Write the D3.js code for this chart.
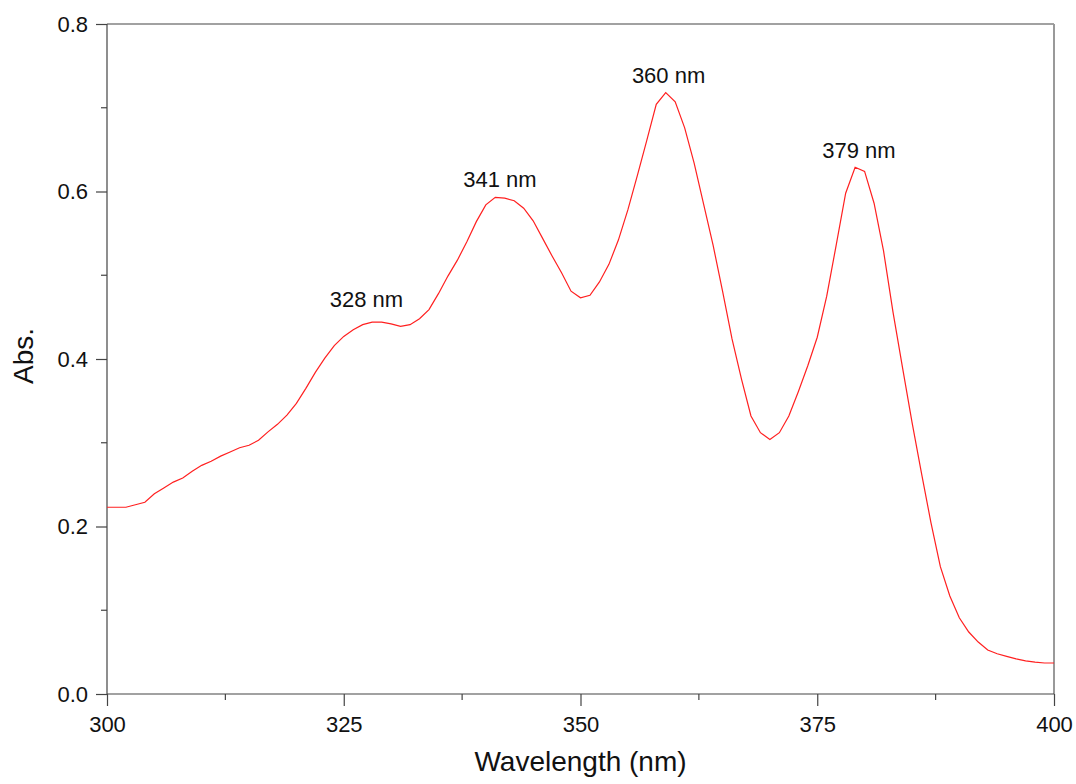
<!DOCTYPE html>
<html>
<head>
<meta charset="utf-8">
<script src="https://cdn.jsdelivr.net/npm/d3@7"></script>
<style>
  html, body { margin: 0; padding: 0; background: #fff; }
  svg text { font-family: "Liberation Sans", Arial, sans-serif; fill: #111; }
</style>
</head>
<body>
<svg id="chart" width="1076" height="784"></svg>
<script>
// Absorption spectrum, 1 nm steps from 300 to 400 nm
const wavelengths = d3.range(300, 401);
const absorbance = [
  0.223, 0.223, 0.223, 0.226, 0.229, 0.239, 0.246, 0.253, 0.258, 0.266,
  0.273, 0.278, 0.284, 0.289, 0.294, 0.297, 0.303, 0.313, 0.322, 0.333,
  0.347, 0.365, 0.384, 0.401, 0.416, 0.427, 0.435, 0.441, 0.444, 0.444,
  0.442, 0.439, 0.441, 0.448, 0.459, 0.478, 0.499, 0.518, 0.540, 0.564,
  0.584, 0.593, 0.592, 0.589, 0.580, 0.565, 0.544, 0.523, 0.503, 0.481,
  0.473, 0.476, 0.492, 0.513, 0.542, 0.578, 0.619, 0.661, 0.704, 0.718,
  0.707, 0.676, 0.634, 0.585, 0.536, 0.481, 0.424, 0.376, 0.332, 0.312,
  0.304, 0.312, 0.332, 0.361, 0.392, 0.426, 0.475, 0.536, 0.598, 0.629,
  0.624, 0.586, 0.529, 0.456, 0.390, 0.325, 0.264, 0.205, 0.152, 0.117,
  0.091, 0.074, 0.062, 0.0525, 0.048, 0.045, 0.042, 0.0395, 0.038, 0.037,
  0.037
];

// Peak annotations: stated wavelength, label anchor (nm) and baseline level (Abs.)
const peakNm = [328, 341, 360, 379];
const peakLabelAt = [327.4, 341.5, 359.3, 379.4];
const peakLabelAbs = [0.462, 0.605, 0.730, 0.640];

const xTicks = [300, 325, 350, 375, 400];
const xMinorTicks = [312.5, 337.5, 362.5, 387.5];
const yTicks = [0.0, 0.2, 0.4, 0.6, 0.8];
const yMinorTicks = [0.1, 0.3, 0.5, 0.7];

const margin = { left: 107, right: 1076 - 1054, top: 24, bottom: 784 - 694 };
const width = 1076, height = 784;
const svg = d3.select("#chart");

const x = d3.scaleLinear().domain([300, 400]).range([margin.left, width - margin.right]);
const y = d3.scaleLinear().domain([0, 0.8]).range([height - margin.bottom, margin.top]);

const axisColor = "#444";

// Frame: top and right edges
svg.append("line")
  .attr("x1", x(300)).attr("x2", x(400))
  .attr("y1", y(0.8)).attr("y2", y(0.8))
  .attr("stroke", axisColor).attr("stroke-width", 1.2);
svg.append("line")
  .attr("x1", x(400)).attr("x2", x(400))
  .attr("y1", y(0.8)).attr("y2", y(0))
  .attr("stroke", "#999").attr("stroke-width", 2);

// Bottom axis
const xAxis = svg.append("g").attr("transform", `translate(0,${y(0)})`);
xAxis.call(d3.axisBottom(x).tickValues(xTicks).tickSize(12).tickPadding(10).tickFormat(d3.format("d")));
xAxis.append("g").selectAll("line").data(xMinorTicks).join("line")
  .attr("x1", d => x(d)).attr("x2", d => x(d)).attr("y1", 0).attr("y2", 6);

// Left axis
const yAxis = svg.append("g").attr("transform", `translate(${x(300)},0)`);
yAxis.call(d3.axisLeft(y).tickValues(yTicks).tickSize(11).tickPadding(8).tickFormat(d3.format(".1f")));
yAxis.append("g").selectAll("line").data(yMinorTicks).join("line")
  .attr("x1", 0).attr("x2", -6).attr("y1", d => y(d)).attr("y2", d => y(d));

[xAxis, yAxis].forEach(g => {
  g.select(".domain").attr("stroke", axisColor).attr("stroke-width", 1.2);
  g.selectAll("line").attr("stroke", axisColor).attr("stroke-width", 1.2);
  g.selectAll(".tick text").attr("font-size", 22).attr("fill", "#111")
    .attr("font-family", "Liberation Sans, Arial, sans-serif");
});
// Domain paths drawn as plain lines without the end caps
xAxis.select(".domain").attr("d", `M${x(300)},0H${x(400)}`);
yAxis.select(".domain").attr("d", `M0,${y(0)}V${y(0.8)}`);

// Spectrum curve
const line = d3.line()
  .x((d, i) => x(wavelengths[i]))
  .y(d => y(d));
svg.append("path")
  .datum(absorbance)
  .attr("d", line)
  .attr("fill", "none")
  .attr("stroke", "#ff2020")
  .attr("stroke-width", 1.2);

// Peak labels
svg.append("g").selectAll("text").data(peakNm).join("text")
  .attr("x", (d, i) => x(peakLabelAt[i]))
  .attr("y", (d, i) => y(peakLabelAbs[i]))
  .attr("text-anchor", "middle")
  .attr("font-size", 22)
  .text(d => `${d} nm`);

// Axis titles
svg.append("text")
  .attr("x", (x(300) + x(400)) / 2)
  .attr("y", 771)
  .attr("text-anchor", "middle")
  .attr("font-size", 28)
  .text("Wavelength (nm)");

svg.append("text")
  .attr("transform", `translate(33,${(y(0) + y(0.8)) / 2 - 3}) rotate(-90)`)
  .attr("text-anchor", "middle")
  .attr("font-size", 28)
  .text("Abs.");
</script>
</body>
</html>
